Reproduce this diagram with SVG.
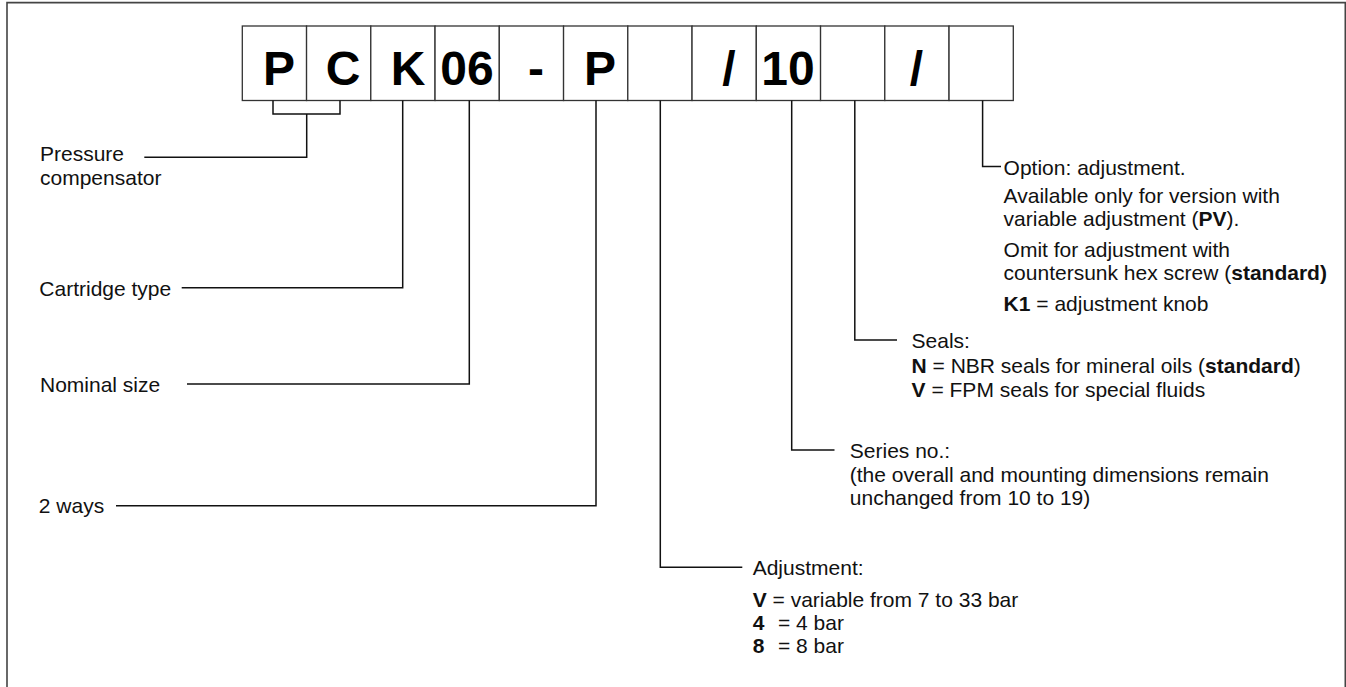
<svg xmlns="http://www.w3.org/2000/svg" width="1346" height="687" viewBox="0 0 1346 687">
<style>
  .frame{fill:none;stroke:#444;stroke-width:1.6}
  .box{fill:#fff;stroke:#333;stroke-width:1.3}
  .big{font-family:"Liberation Sans",Arial,sans-serif;font-size:48px;font-weight:bold;fill:#000;text-anchor:middle}
  .lbl{font-family:"Liberation Sans",Arial,sans-serif;font-size:21px;fill:#111}
  .b{font-weight:bold}
  .conn path{fill:none;stroke:#111;stroke-width:1.5}
</style>
<rect width="1346" height="687" fill="#fff"/>
<path class="frame" d="M7,690 V2.6 H1345.3 V690"/>

<g id="code">
  <g id="box1"><rect class="box" x="242.3" y="26" width="64.25" height="74.5"/><text class="big" x="279" y="85">P</text></g>
  <g id="box2"><rect class="box" x="306.55" y="26" width="64.25" height="74.5"/><text class="big" x="343" y="85">C</text></g>
  <g id="box3"><rect class="box" x="370.8" y="26" width="64.25" height="74.5"/><text class="big" x="408" y="85">K</text></g>
  <g id="box4"><rect class="box" x="435.05" y="26" width="64.25" height="74.5"/><text class="big" x="467" y="85">06</text></g>
  <g id="box5"><rect class="box" x="499.3" y="26" width="64.25" height="74.5"/><text class="big" x="536" y="85">-</text></g>
  <g id="box6"><rect class="box" x="563.55" y="26" width="64.25" height="74.5"/><text class="big" x="600" y="85">P</text></g>
  <g id="box7"><rect class="box" x="627.8" y="26" width="64.25" height="74.5"/></g>
  <g id="box8"><rect class="box" x="692.05" y="26" width="64.25" height="74.5"/><text class="big" x="729" y="85">/</text></g>
  <g id="box9"><rect class="box" x="756.3" y="26" width="64.25" height="74.5"/><text class="big" x="788" y="85">10</text></g>
  <g id="box10"><rect class="box" x="820.55" y="26" width="64.25" height="74.5"/></g>
  <g id="box11"><rect class="box" x="884.8" y="26" width="64.25" height="74.5"/><text class="big" x="916.5" y="85">/</text></g>
  <g id="box12"><rect class="box" x="949.05" y="26" width="64.25" height="74.5"/></g>
</g>

<g id="connectors" class="conn">
  <path d="M273,100.5 V114 H340 V100.5"/>
  <path d="M306.7,114 V157.3 H144.3"/>
  <path d="M402.7,100.5 V287.7 H181.7"/>
  <path d="M469.3,100.5 V384 H187"/>
  <path d="M596,100.5 V505.7 H116"/>
  <path d="M660.3,100.5 V567.3 H742.3"/>
  <path d="M791.7,100.5 V450 H834.5"/>
  <path d="M854.8,100.5 V340 H897"/>
  <path d="M982.6,100.5 V166.5 H1001"/>
</g>

<g id="label-pressure">
  <text class="lbl" x="40" y="161">Pressure</text>
  <text class="lbl" x="40" y="185">compensator</text>
</g>
<g id="label-cartridge"><text class="lbl" x="39.3" y="295.5">Cartridge type</text></g>
<g id="label-nominal"><text class="lbl" x="40" y="392">Nominal size</text></g>
<g id="label-ways"><text class="lbl" x="38.8" y="513">2 ways</text></g>

<g id="label-adjustment">
  <text class="lbl" x="752.7" y="575">Adjustment:</text>
  <text class="lbl" x="752.7" y="606.5"><tspan class="b">V</tspan> = variable from 7 to 33 bar</text>
  <text class="lbl" x="752.7" y="630"><tspan class="b">4</tspan><tspan x="778">= 4 bar</tspan></text>
  <text class="lbl" x="752.7" y="653.3"><tspan class="b">8</tspan><tspan x="778">= 8 bar</tspan></text>
</g>

<g id="label-series">
  <text class="lbl" x="849.8" y="458.3">Series no.:</text>
  <text class="lbl" x="849.8" y="481.7">(the overall and mounting dimensions remain</text>
  <text class="lbl" x="849.8" y="505">unchanged from 10 to 19)</text>
</g>

<g id="label-seals">
  <text class="lbl" x="911.6" y="348.3">Seals:</text>
  <text class="lbl" x="911.6" y="373.3"><tspan class="b">N</tspan> = NBR seals for mineral oils (<tspan class="b">standard</tspan>)</text>
  <text class="lbl" x="911.6" y="396.7"><tspan class="b">V</tspan> = FPM seals for special fluids</text>
</g>

<g id="label-option">
  <text class="lbl" x="1003.6" y="174.5">Option: adjustment.</text>
  <text class="lbl" x="1003.6" y="203">Available only for version with</text>
  <text class="lbl" x="1003.6" y="225.5">variable adjustment (<tspan class="b">PV</tspan>).</text>
  <text class="lbl" x="1003.6" y="256.5">Omit for adjustment with</text>
  <text class="lbl" x="1003.6" y="279.5">countersunk hex screw (<tspan class="b">standard)</tspan></text>
  <text class="lbl" x="1003.6" y="310.5"><tspan class="b">K1</tspan> = adjustment knob</text>
</g>
</svg>
